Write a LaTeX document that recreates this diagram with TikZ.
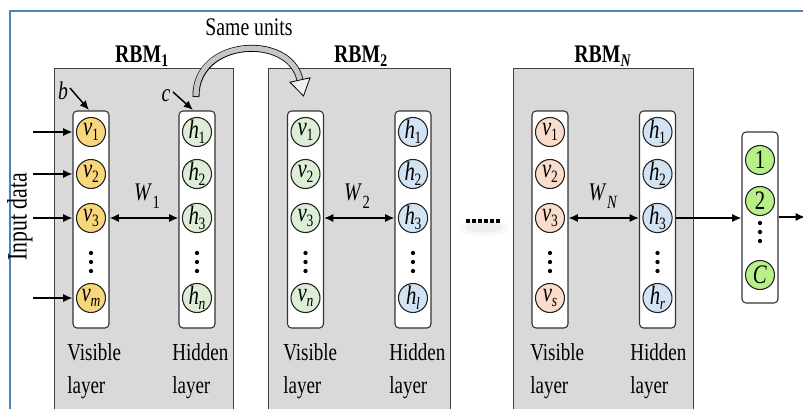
\documentclass[tikz,border=0pt]{standalone}
\usepackage{fontspec}
\setmainfont{Liberation Serif}[FakeStretch=0.78]
\usetikzlibrary{arrows.meta,calc}
\definecolor{framebl}{HTML}{4F81BD}
\definecolor{boxgray}{HTML}{D9D9D9}
\definecolor{boxedge}{HTML}{404040}
\definecolor{coledge}{HTML}{333333}
\definecolor{unitedge}{HTML}{222222}
\definecolor{cyellow}{HTML}{F8D77C}
\definecolor{cgreen}{HTML}{DCEED6}
\definecolor{cblue}{HTML}{D2E3F3}
\definecolor{cpeach}{HTML}{F9DCC9}
\definecolor{clime}{HTML}{B8F088}
\newcommand\unitlab[2]{\textit{#1}\kern-0.3pt\raisebox{-4pt}{\fontsize{13}{13}\selectfont #2}}
\newcommand\wlab[1]{\textit{W}\kern0.5pt\raisebox{-6pt}{\fontsize{14}{14}\selectfont #1}}
\begin{document}
\begin{tikzpicture}[x=0.75pt,y=-0.75pt,
  rbmbox/.style={draw=boxedge, fill=boxgray, line width=1.1pt, anchor=north west, inner sep=0},
  colbox/.style={draw=coledge, fill=white, rounded corners=3pt, line width=0.8pt, minimum width=27pt, minimum height=162.75pt, inner sep=0},
  unit/.style={circle, draw=unitedge, line width=0.8pt, minimum size=21.75pt, inner sep=0, font=\fontsize{20}{20}\selectfont},
  arr/.style={-{Latex[length=7pt,width=6pt]}, line width=1.1pt},
  darr/.style={{Latex[length=7pt,width=6pt]}-{Latex[length=7pt,width=6pt]}, line width=1.1pt},
  lbl/.style={font=\fontsize{18.3}{24.75}\selectfont, align=left, inner sep=0, anchor=west},
  title/.style={font=\fontsize{19}{19}\selectfont\bfseries},
  vdot/.style={circle, fill=black, inner sep=0, minimum size=3.2pt},
  hdot/.style={rectangle, fill=black, inner sep=0, minimum size=3pt},
  txt/.style={font=\fontsize{19}{19}\selectfont, inner sep=0}
]
\useasboundingbox (0,0) rectangle (803,409);
\clip (0,0) rectangle (803,409);
\fill[white] (0,0) rectangle (803,409);

% frame
\draw[framebl, line width=1.6pt] (10,420) -- (10,11) -- (810,11);

% RBM boxes
\node[rbmbox, minimum width=134.25pt, minimum height=264pt] (rbm1) at (54,68) {};
\node[rbmbox, minimum width=136.5pt, minimum height=264pt] (rbm2) at (268,68) {};
\node[rbmbox, minimum width=135pt, minimum height=264pt] (rbmn) at (513,68) {};

\node[title] (t1) at (142,56) {RBM\textsubscript{1}};
\node[title] (t2) at (361,56) {RBM\textsubscript{2}};
\node[title] (tn) at (603,56) {RBM\textsubscript{\textit{N}}};

% columns
\node[colbox] (c1v) at (91,219.5) {};
\node[colbox] (c1h) at (197,219.5) {};
\node[colbox] (c2v) at (305.5,219.5) {};
\node[colbox] (c2h) at (413,219.5) {};
\node[colbox] (cnv) at (550,219.5) {};
\node[colbox] (cnh) at (657.5,219.5) {};
\node[colbox, minimum height=128.25pt] (cout) at (760,217.5) {};

% RBM1 units
\node[unit, fill=cyellow] (a1) at (91,132) {\unitlab{v}{1}};
\node[unit, fill=cyellow] (a2) at (91,174) {\unitlab{v}{2}};
\node[unit, fill=cyellow] (a3) at (91,218) {\unitlab{v}{3}};
\node[unit, fill=cyellow] (a4) at (91,298) {\unitlab{v}{\textit{m}}};
\node[unit, fill=cgreen] (b1) at (197,132) {\unitlab{h}{1}};
\node[unit, fill=cgreen] (b2) at (197,174) {\unitlab{h}{2}};
\node[unit, fill=cgreen] (b3) at (197,218) {\unitlab{h}{3}};
\node[unit, fill=cgreen] (b4) at (197,298) {\unitlab{h}{\textit{n}}};
% RBM2 units
\node[unit, fill=cgreen] (d1) at (305.5,132) {\unitlab{v}{1}};
\node[unit, fill=cgreen] (d2) at (305.5,174) {\unitlab{v}{2}};
\node[unit, fill=cgreen] (d3) at (305.5,218) {\unitlab{v}{3}};
\node[unit, fill=cgreen] (d4) at (305.5,298) {\unitlab{v}{\textit{n}}};
\node[unit, fill=cblue] (e1) at (413,132) {\unitlab{h}{1}};
\node[unit, fill=cblue] (e2) at (413,174) {\unitlab{h}{2}};
\node[unit, fill=cblue] (e3) at (413,218) {\unitlab{h}{3}};
\node[unit, fill=cblue] (e4) at (413,298) {\unitlab{h}{\textit{l}}};
% RBMN units
\node[unit, fill=cpeach] (f1) at (550,132) {\unitlab{v}{1}};
\node[unit, fill=cpeach] (f2) at (550,174) {\unitlab{v}{2}};
\node[unit, fill=cpeach] (f3) at (550,218) {\unitlab{v}{3}};
\node[unit, fill=cpeach] (f4) at (550,298) {\unitlab{v}{\textit{s}}};
\node[unit, fill=cblue] (g1) at (657.5,132) {\unitlab{h}{1}};
\node[unit, fill=cblue] (g2) at (657.5,174) {\unitlab{h}{2}};
\node[unit, fill=cblue] (g3) at (657.5,218) {\unitlab{h}{3}};
\node[unit, fill=cblue] (g4) at (657.5,298) {\unitlab{h}{\textit{r}}};
% output units
\node[unit, fill=clime] (o1) at (760,160) {1};
\node[unit, fill=clime] (o2) at (760,201) {2};
\node[unit, fill=clime] (o3) at (760,275) {\textit{C}};

% vertical dots
\foreach \xx/\nm in {91/p1,197/p2,305.5/p3,413/p4,550/p5,657.5/p6}{
  \node[vdot] (\nm a) at (\xx,253) {};
  \node[vdot] (\nm b) at (\xx,262) {};
  \node[vdot] (\nm c) at (\xx,271) {};
}
\node[vdot] (poa) at (760,223) {};
\node[vdot] (pob) at (760,232) {};
\node[vdot] (poc) at (760,241) {};

% horizontal dots with soft shadow
\fill[black, opacity=0.03] (484,228) ellipse [x radius=19pt, y radius=6pt];
\fill[black, opacity=0.04] (484,227) ellipse [x radius=14pt, y radius=4pt];
\foreach \xx/\nm in {468/q1,474/q2,480/q3,486/q4,492/q5,498/q6}{
  \node[hdot] (\nm) at (\xx,221) {};
}

% input arrows
\coordinate (in1) at (33,132);
\coordinate (in2) at (33,174);
\coordinate (in3) at (33,218);
\coordinate (in4) at (33,298);
\draw[arr] (in1) -- (in1 -| c1v.west);
\draw[arr] (in2) -- (in2 -| c1v.west);
\draw[arr] (in3) -- (in3 -| c1v.west);
\draw[arr] (in4) -- (in4 -| c1v.west);
\node[font=\fontsize{21}{21}\selectfont, rotate=90, inner sep=0] (inp) at (20,217) {Input data};

% weight arrows
\draw[darr] (c1v.east |- a3) -- (c1h.west |- b3);
\draw[darr] (c2v.east |- d3) -- (c2h.west |- e3);
\draw[darr] (cnv.east |- f3) -- (cnh.west |- g3);
\node[txt] (w1) at (147,196) {\wlab{1}};
\node[txt] (w2) at (357,196) {\wlab{2}};
\node[txt] (wn) at (603,196) {\wlab{\textit{N}}};

% to output
\draw[arr] (cnh.east |- g3) -- (cout.west |- g3);
\coordinate (outend) at (805,217);
\draw[arr] (cout.east |- outend) -- (outend);

% bias labels
\node[txt] (blab) at (63,91) {\textit{b}};
\coordinate (bs) at (70,88);
\coordinate (be) at (89,110);
\draw[arr] (bs) -- (be);
\node[txt] (clab) at (166,96) {\textit{c}};
\coordinate (cs) at (173,92);
\coordinate (ce) at (193,110);
\draw[arr] (cs) -- (ce);

% Same units arrow
\node[txt] (same) at (249,27) {Same units};
\coordinate (su1) at (196,97);
\coordinate (su2) at (300,80);
\draw[black, line width=5.2pt] (su1) .. controls (195,38) and (290,33) .. (su2);
\draw[gray!45, line width=4pt, shorten <=0.6pt] (su1) .. controls (195,38) and (290,33) .. (su2);
\draw[fill=gray!12, line width=0.6pt, line join=miter] (310,77.8) -- (303.5,96) -- (290,82.2) -- cycle;

% layer labels
\node[lbl] (l1v) at (67,371) {Visible\\layer};
\node[lbl] (l1h) at (172,371) {Hidden\\layer};
\node[lbl] (l2v) at (283,371) {Visible\\layer};
\node[lbl] (l2h) at (389,371) {Hidden\\layer};
\node[lbl] (lnv) at (530,371) {Visible\\layer};
\node[lbl] (lnh) at (630,371) {Hidden\\layer};
\end{tikzpicture}
\end{document}
